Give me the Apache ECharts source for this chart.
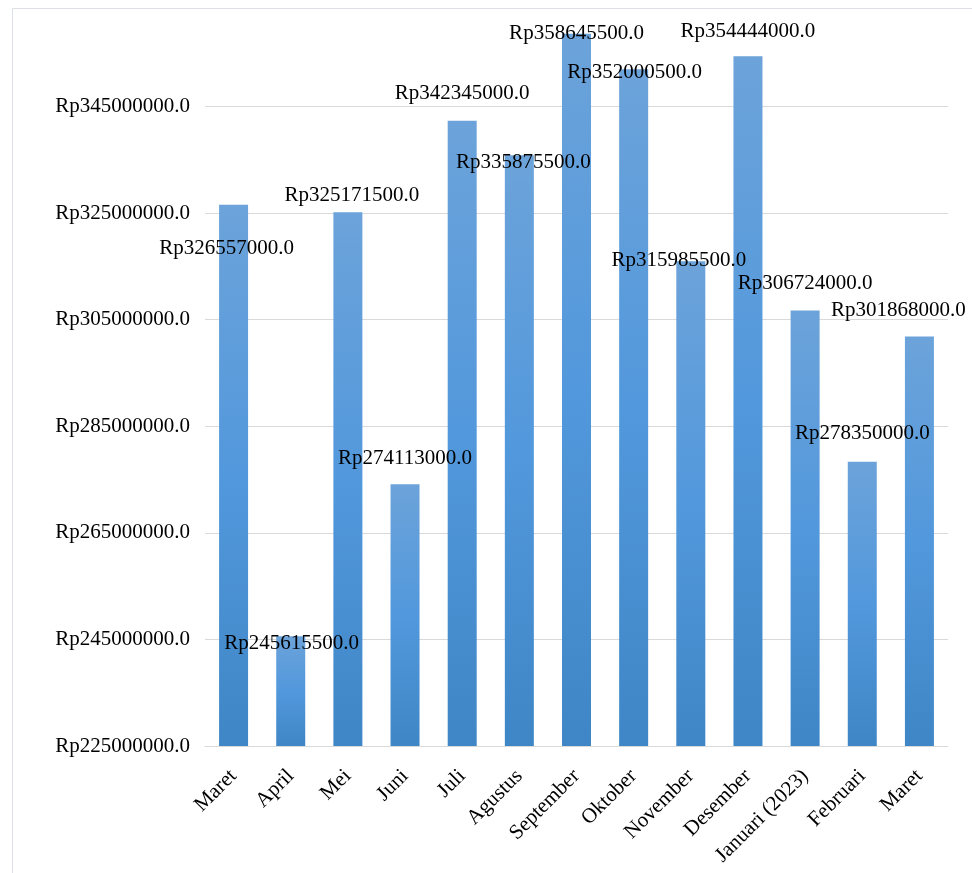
<!DOCTYPE html>
<html>
<head>
<meta charset="utf-8">
<script src="https://cdn.jsdelivr.net/npm/echarts@6/dist/echarts.min.js"></script>
<style>
  html, body { margin: 0; padding: 0; background: #fff; }
  #chart { width: 972px; height: 873px; }
</style>
</head>
<body>
<div id="chart"></div>
<script>
// bulan
const categories = ['Maret', 'April', 'Mei', 'Juni', 'Juli', 'Agustus', 'September',
  'Oktober', 'November', 'Desember', 'Januari (2023)', 'Februari', 'Maret'];
// pendapatan per bulan
const values = [326557000, 245615500, 325171500, 274113000, 342345000, 335875500, 358645500,
  352000500, 315985500, 354444000, 306724000, 278350000, 301868000];
const yMin = 225000000;
const yMax = 365000000;
const yStep = 20000000;

// posisi label data ala Excel (geser dari puncak batang)
const labelShift = [[-7, 44], [1, 7], [4, -17], [0, -26], [0, -27], [4, 7], [0, 0],
  [1, 3], [-12, -1], [0, -25], [0, -27], [0, -28], [-21, -26]];

const font = '"Liberation Serif", "Times New Roman", serif';
const fmt = v => 'Rp' + Number(v).toFixed(1);

const chart = echarts.init(document.getElementById('chart'));

const barColor = new echarts.graphic.LinearGradient(0, 0, 0, 1, [
  { offset: 0, color: '#6ca3da' },
  { offset: 0.5, color: '#5298dc' },
  { offset: 1, color: '#3f86c6' }
]);

chart.setOption({
  animation: false,
  grid: { left: 205, right: 24, top: -3, bottom: 127 },
  graphic: [{
    type: 'rect',
    shape: { x: 12.5, y: 8.5, width: 3000, height: 3000 },
    style: { fill: 'none', stroke: '#dcdfe5', lineWidth: 1 },
    silent: true,
    z: -10
  }],
  xAxis: {
    type: 'category',
    data: categories,
    axisTick: { show: false },
    axisLine: { lineStyle: { color: '#d9d9d9', width: 1 } },
    axisLabel: {
      rotate: 45,
      margin: 27,
      interval: 0,
      color: '#000',
      fontFamily: font,
      fontSize: 21
    }
  },
  yAxis: {
    type: 'value',
    min: yMin,
    max: yMax,
    interval: yStep,
    axisLine: { show: false },
    axisTick: { show: false },
    splitLine: { showMaxLine: false, lineStyle: { color: '#d9d9d9', width: 1 } },
    axisLabel: {
      margin: 15,
      color: '#000',
      fontFamily: font,
      fontSize: 21,
      showMaxLabel: false,
      formatter: fmt
    }
  },
  series: [{
    type: 'bar',
    barWidth: 29,
    itemStyle: { color: barColor },
    data: values.map((v, i) => ({
      value: v,
      label: { offset: labelShift[i] }
    })),
    label: {
      show: true,
      position: 'top',
      distance: 0,
      verticalAlign: 'middle',
      color: '#000',
      fontFamily: font,
      fontSize: 21,
      formatter: p => fmt(p.value)
    }
  }]
});
</script>
</body>
</html>
